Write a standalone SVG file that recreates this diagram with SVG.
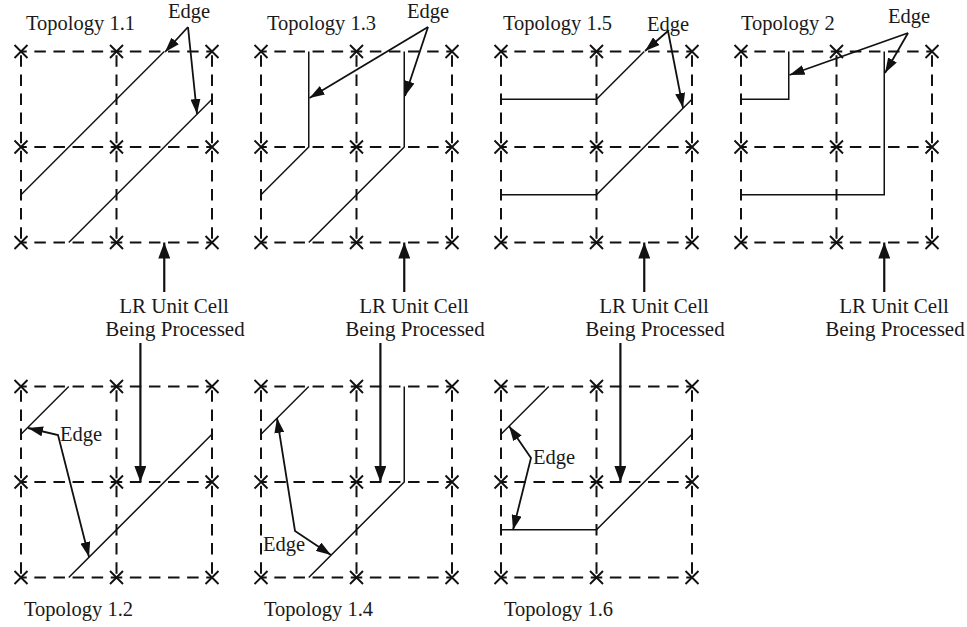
<svg xmlns="http://www.w3.org/2000/svg" width="967" height="627" viewBox="0 0 967 627">
  <style>
    .dh{stroke:#111;stroke-width:2;fill:none;stroke-dasharray:11.5 7.6;stroke-dashoffset:5.75}
    .dv{stroke:#111;stroke-width:2;fill:none;stroke-dasharray:11.5 7.6;stroke-dashoffset:15.3}
    .xm{stroke:#111;stroke-width:1.9;fill:none}
    .edge{stroke:#111;stroke-width:1.5;fill:none;stroke-linejoin:miter}
    .ptr{stroke:#111;stroke-width:1.8;fill:none;marker-end:url(#ah)}
    .ptr2{stroke:#111;stroke-width:1.8;fill:none;marker-start:url(#ah);marker-end:url(#ah)}
    .lrp{stroke:#111;stroke-width:2.2;fill:none;marker-end:url(#ahb)}
    .t{font-family:"Liberation Serif","Times New Roman",serif;font-size:20.5px;fill:#1a1a1a}
    .lr{font-family:"Liberation Serif","Times New Roman",serif;font-size:21px;text-anchor:middle;fill:#1a1a1a}
  </style>
  <defs>
    <marker id="ah" markerUnits="userSpaceOnUse" markerWidth="16" markerHeight="10" refX="15" refY="5" orient="auto-start-reverse">
      <path d="M0,0 L15,5 L0,10 z" fill="#111"/>
    </marker>
    <marker id="ahb" markerUnits="userSpaceOnUse" markerWidth="17" markerHeight="12" refX="16" refY="6" orient="auto">
      <path d="M0,0 L16,6 L0,12 z" fill="#111"/>
    </marker>
    <path id="xm" class="xm" d="M-6.5,-6.5L6.5,6.5M-6.5,6.5L6.5,-6.5"/>
    <!-- 2x2 unit-cell grid: dashed lines with a cross at every grid point -->
    <g id="grid">
      <line class="dh" x1="0" y1="0" x2="191" y2="0"/>
      <line class="dh" x1="0" y1="95.5" x2="191" y2="95.5"/>
      <line class="dh" x1="0" y1="191" x2="191" y2="191"/>
      <line class="dv" x1="0" y1="0" x2="0" y2="191"/>
      <line class="dv" x1="95.5" y1="0" x2="95.5" y2="191"/>
      <line class="dv" x1="191" y1="0" x2="191" y2="191"/>
      <use href="#xm" x="0" y="0"/>
      <use href="#xm" x="95.5" y="0"/>
      <use href="#xm" x="191" y="0"/>
      <use href="#xm" x="0" y="95.5"/>
      <use href="#xm" x="95.5" y="95.5"/>
      <use href="#xm" x="191" y="95.5"/>
      <use href="#xm" x="0" y="191"/>
      <use href="#xm" x="95.5" y="191"/>
      <use href="#xm" x="191" y="191"/>
    </g>
  </defs>

  <!-- top row -->
  <g id="topology-1-1">
    <text class="t" x="26" y="30">Topology 1.1</text>
    <text class="t" x="168" y="18">Edge</text>
    <g transform="translate(21,51.5)">
      <use href="#grid"/>
      <path class="edge" d="M0,143.25L143.25,0"/>
      <path class="edge" d="M47.75,191L191,47.75"/>
    </g>
  </g>

  <g id="topology-1-3">
    <text class="t" x="267" y="30">Topology 1.3</text>
    <text class="t" x="407" y="18">Edge</text>
    <g transform="translate(261,51.5)">
      <use href="#grid"/>
      <path class="edge" d="M47.75,0V95.5L0,143.25"/>
      <path class="edge" d="M143.25,0V95.5L47.75,191"/>
    </g>
  </g>

  <g id="topology-1-5">
    <text class="t" x="503" y="30">Topology 1.5</text>
    <text class="t" x="647" y="31">Edge</text>
    <g transform="translate(501,51.5)">
      <use href="#grid"/>
      <path class="edge" d="M0,47.75H95.5L143.25,0"/>
      <path class="edge" d="M0,143.25H95.5L191,47.75"/>
    </g>
  </g>

  <g id="topology-2">
    <text class="t" x="741" y="30">Topology 2</text>
    <text class="t" x="888" y="23">Edge</text>
    <g transform="translate(741,51.5)">
      <use href="#grid"/>
      <path class="edge" d="M0,47.75H47.75V0"/>
      <path class="edge" d="M0,143.25H143.25V0"/>
    </g>
  </g>

  <!-- bottom row -->
  <g id="topology-1-2">
    <text class="t" x="24" y="616">Topology 1.2</text>
    <text class="t" x="60" y="441">Edge</text>
    <g transform="translate(21,386.5)">
      <use href="#grid"/>
      <path class="edge" d="M0,47.75L47.75,0"/>
      <path class="edge" d="M47.75,191L191,47.75"/>
    </g>
  </g>

  <g id="topology-1-4">
    <text class="t" x="264" y="616">Topology 1.4</text>
    <text class="t" x="263" y="551">Edge</text>
    <g transform="translate(261,386.5)">
      <use href="#grid"/>
      <path class="edge" d="M0,47.75L47.75,0"/>
      <path class="edge" d="M47.75,191L143.25,95.5V0"/>
    </g>
  </g>

  <g id="topology-1-6">
    <text class="t" x="504" y="616">Topology 1.6</text>
    <text class="t" x="533" y="464">Edge</text>
    <g transform="translate(501,386.5)">
      <use href="#grid"/>
      <path class="edge" d="M0,47.75L47.75,0"/>
      <path class="edge" d="M0,143.25H95.5L191,47.75"/>
    </g>
  </g>

  <!-- "LR Unit Cell Being Processed" captions -->
  <g id="lr-caption-1">
    <text class="lr" x="174" y="313">LR Unit Cell</text>
    <text class="lr" x="175" y="336">Being Processed</text>
  </g>
  <g id="lr-caption-2">
    <text class="lr" x="414" y="313">LR Unit Cell</text>
    <text class="lr" x="415" y="336">Being Processed</text>
  </g>
  <g id="lr-caption-3">
    <text class="lr" x="654" y="313">LR Unit Cell</text>
    <text class="lr" x="655" y="336">Being Processed</text>
  </g>
  <g id="lr-caption-4">
    <text class="lr" x="894" y="313">LR Unit Cell</text>
    <text class="lr" x="895" y="336">Being Processed</text>
  </g>

  <!-- connectors -->
  <g id="connectors">
    <!-- Edge pointers, top row -->
    <path class="ptr" d="M188,27L165,52"/>
    <path class="ptr" d="M188,27L197,114"/>
    <path class="ptr" d="M428,27L309.5,98"/>
    <path class="ptr" d="M428,27L405,96"/>
    <path class="ptr" d="M668,31L645,51"/>
    <path class="ptr" d="M668,31L683,108"/>
    <path class="ptr" d="M908,33L789.5,75"/>
    <path class="ptr" d="M908,33L885,73"/>
    <!-- Edge pointers, bottom row -->
    <path class="ptr2" d="M28,428L58,435L89,557"/>
    <path class="ptr2" d="M277,418L295,531L331,555"/>
    <path class="ptr2" d="M509,426L531,458L513,530"/>
    <!-- caption arrows: up to the top cells, down to the bottom cells -->
    <path class="lrp" d="M164.25,292V242.5"/>
    <path class="lrp" d="M404.25,292V242.5"/>
    <path class="lrp" d="M644.25,292V242.5"/>
    <path class="lrp" d="M884.25,292V242.5"/>
    <path class="lrp" d="M140.4,343V482"/>
    <path class="lrp" d="M380.4,343V482"/>
    <path class="lrp" d="M620.4,343V482"/>
  </g>
</svg>
